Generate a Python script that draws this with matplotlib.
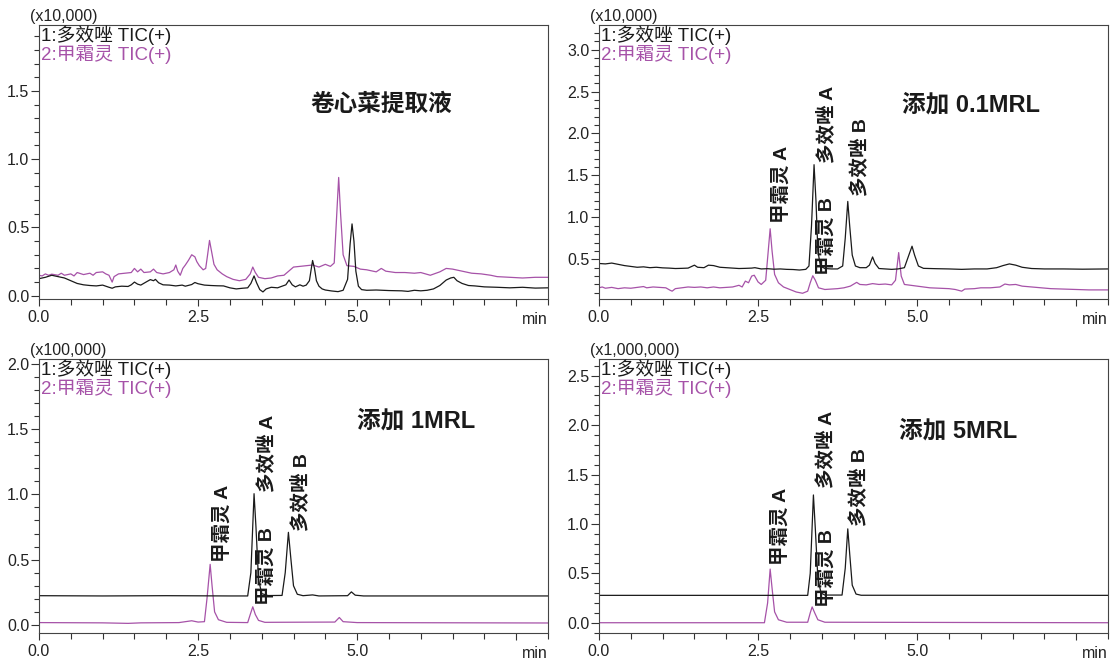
"""Four overlaid TIC chromatograms: cabbage blank and three spike levels."""

import matplotlib

matplotlib.use("Agg")
import matplotlib.pyplot as plt
import numpy as np
from matplotlib.ticker import FixedLocator, MultipleLocator

plt.rcParams["font.family"] = ["Liberation Sans", "Noto Sans CJK SC"]

BLACK = "#1a1a1a"
MAGENTA = "#a652a8"

LEGEND_1 = "1:多效唑 TIC(+)"
LEGEND_2 = "2:甲霜灵 TIC(+)"
X_TICKS = [0.0, 2.5, 5.0, 7.5]
X_TICK_LABELS = ["0.0", "2.5", "5.0", ""]

# (time min, intensity in panel units)
blank_black = [
    (0.00, 0.125), (0.10, 0.135), (0.20, 0.150), (0.25, 0.145), (0.30, 0.140),
    (0.40, 0.130), (0.50, 0.110), (0.60, 0.090), (0.70, 0.080), (0.80, 0.075),
    (0.90, 0.072), (1.00, 0.078), (1.05, 0.070), (1.10, 0.062), (1.15, 0.055),
    (1.20, 0.065), (1.30, 0.070), (1.40, 0.068), (1.45, 0.080), (1.50, 0.100),
    (1.55, 0.085), (1.60, 0.078), (1.70, 0.105), (1.75, 0.118), (1.80, 0.110),
    (1.83, 0.120), (1.88, 0.095), (1.95, 0.080), (2.05, 0.078), (2.15, 0.072),
    (2.25, 0.078), (2.30, 0.070), (2.40, 0.082), (2.45, 0.097), (2.50, 0.088),
    (2.60, 0.078), (2.70, 0.075), (2.80, 0.073), (2.90, 0.072), (3.00, 0.058),
    (3.10, 0.050), (3.20, 0.055), (3.28, 0.058), (3.33, 0.090), (3.38, 0.145),
    (3.42, 0.095), (3.47, 0.045), (3.52, 0.028), (3.57, 0.050), (3.65, 0.062),
    (3.75, 0.058), (3.82, 0.070), (3.88, 0.080), (3.93, 0.115), (3.98, 0.080),
    (4.03, 0.065), (4.10, 0.080), (4.15, 0.070), (4.20, 0.078), (4.25, 0.110),
    (4.28, 0.200), (4.30, 0.258), (4.33, 0.200), (4.36, 0.110), (4.40, 0.070),
    (4.45, 0.050), (4.50, 0.042), (4.60, 0.035), (4.70, 0.030), (4.78, 0.040),
    (4.85, 0.120), (4.89, 0.380), (4.92, 0.526), (4.95, 0.400), (4.98, 0.180),
    (5.02, 0.070), (5.07, 0.045), (5.15, 0.040), (5.30, 0.042), (5.50, 0.038),
    (5.70, 0.036), (5.80, 0.032), (5.90, 0.040), (6.00, 0.036), (6.10, 0.040),
    (6.20, 0.050), (6.30, 0.075), (6.40, 0.115), (6.47, 0.130), (6.52, 0.135),
    (6.57, 0.110), (6.65, 0.090), (6.75, 0.075), (6.85, 0.072), (7.00, 0.065),
    (7.20, 0.062), (7.40, 0.058), (7.60, 0.062), (7.80, 0.056), (8.00, 0.058),
]
blank_magenta = [
    (0.00, 0.150), (0.05, 0.145), (0.10, 0.160), (0.15, 0.150), (0.20, 0.158),
    (0.30, 0.150), (0.35, 0.165), (0.40, 0.150), (0.50, 0.160), (0.55, 0.145),
    (0.60, 0.170), (0.70, 0.155), (0.80, 0.165), (0.85, 0.150), (0.90, 0.170),
    (1.00, 0.175), (1.05, 0.160), (1.10, 0.150), (1.15, 0.100), (1.18, 0.140),
    (1.25, 0.160), (1.35, 0.165), (1.45, 0.170), (1.50, 0.200), (1.55, 0.175),
    (1.60, 0.195), (1.65, 0.170), (1.75, 0.175), (1.80, 0.195), (1.85, 0.170),
    (1.95, 0.160), (2.05, 0.170), (2.12, 0.190), (2.15, 0.225), (2.18, 0.180),
    (2.22, 0.150), (2.26, 0.200), (2.30, 0.225), (2.35, 0.260), (2.40, 0.300),
    (2.45, 0.285), (2.48, 0.250), (2.52, 0.220), (2.58, 0.190), (2.62, 0.200),
    (2.65, 0.300), (2.68, 0.405), (2.71, 0.330), (2.75, 0.230), (2.80, 0.190),
    (2.88, 0.160), (2.95, 0.140), (3.05, 0.120), (3.15, 0.110), (3.25, 0.120),
    (3.32, 0.160), (3.36, 0.210), (3.40, 0.170), (3.45, 0.135), (3.55, 0.125),
    (3.65, 0.130), (3.75, 0.145), (3.85, 0.150), (3.95, 0.190), (4.00, 0.210),
    (4.10, 0.215), (4.20, 0.220), (4.30, 0.225), (4.40, 0.210), (4.50, 0.230),
    (4.58, 0.215), (4.64, 0.240), (4.68, 0.600), (4.71, 0.866), (4.74, 0.600),
    (4.78, 0.300), (4.84, 0.220), (4.95, 0.215), (5.05, 0.195), (5.15, 0.190),
    (5.30, 0.175), (5.38, 0.200), (5.45, 0.180), (5.60, 0.170), (5.75, 0.170),
    (5.90, 0.165), (6.00, 0.170), (6.15, 0.150), (6.30, 0.175), (6.40, 0.200),
    (6.50, 0.195), (6.60, 0.185), (6.70, 0.175), (6.80, 0.165), (6.95, 0.160),
    (7.10, 0.150), (7.20, 0.140), (7.40, 0.135), (7.60, 0.130), (7.80, 0.135),
    (8.00, 0.135),
]
mrl01_black = [
    (0.00, 0.450), (0.10, 0.445), (0.20, 0.455), (0.30, 0.440), (0.40, 0.425),
    (0.50, 0.415), (0.60, 0.405), (0.70, 0.410), (0.80, 0.400), (0.90, 0.405),
    (1.00, 0.398), (1.10, 0.395), (1.20, 0.390), (1.30, 0.392), (1.40, 0.395),
    (1.50, 0.430), (1.55, 0.405), (1.65, 0.400), (1.72, 0.430), (1.80, 0.425),
    (1.90, 0.405), (2.00, 0.400), (2.10, 0.395), (2.20, 0.390), (2.30, 0.392),
    (2.40, 0.395), (2.45, 0.400), (2.55, 0.385), (2.65, 0.388), (2.75, 0.382),
    (2.85, 0.385), (2.95, 0.380), (3.05, 0.378), (3.15, 0.372), (3.25, 0.380),
    (3.30, 0.420), (3.34, 0.900), (3.38, 1.628), (3.41, 1.200), (3.44, 0.600),
    (3.48, 0.420), (3.55, 0.390), (3.65, 0.385), (3.75, 0.385), (3.83, 0.420),
    (3.87, 0.750), (3.91, 1.190), (3.94, 0.900), (3.98, 0.550), (4.03, 0.420),
    (4.10, 0.400), (4.20, 0.400), (4.25, 0.430), (4.30, 0.528), (4.34, 0.450),
    (4.40, 0.390), (4.50, 0.385), (4.60, 0.380), (4.70, 0.385), (4.80, 0.400),
    (4.87, 0.550), (4.92, 0.656), (4.96, 0.550), (5.02, 0.420), (5.10, 0.392),
    (5.30, 0.388), (5.50, 0.385), (5.70, 0.380), (5.90, 0.385), (6.10, 0.385),
    (6.25, 0.400), (6.35, 0.425), (6.45, 0.445), (6.55, 0.430), (6.65, 0.405),
    (6.80, 0.390), (7.00, 0.385), (7.30, 0.385), (7.60, 0.382), (8.00, 0.385),
]
mrl01_magenta = [
    (0.00, 0.160), (0.05, 0.170), (0.10, 0.155), (0.20, 0.165), (0.30, 0.150),
    (0.40, 0.160), (0.50, 0.155), (0.60, 0.165), (0.70, 0.175), (0.75, 0.160),
    (0.85, 0.170), (0.95, 0.165), (1.05, 0.160), (1.12, 0.130), (1.15, 0.120),
    (1.20, 0.150), (1.30, 0.160), (1.40, 0.170), (1.50, 0.165), (1.60, 0.170),
    (1.70, 0.160), (1.80, 0.170), (1.90, 0.160), (2.00, 0.165), (2.10, 0.170),
    (2.20, 0.190), (2.25, 0.170), (2.30, 0.240), (2.35, 0.220), (2.40, 0.300),
    (2.44, 0.310), (2.50, 0.230), (2.55, 0.200), (2.62, 0.250), (2.66, 0.600),
    (2.69, 0.864), (2.72, 0.600), (2.76, 0.320), (2.82, 0.220), (2.90, 0.170),
    (3.00, 0.140), (3.10, 0.110), (3.20, 0.095), (3.28, 0.120), (3.32, 0.220),
    (3.36, 0.304), (3.40, 0.250), (3.45, 0.160), (3.55, 0.140), (3.65, 0.145),
    (3.75, 0.150), (3.85, 0.160), (3.95, 0.180), (4.05, 0.225), (4.10, 0.200),
    (4.20, 0.195), (4.30, 0.210), (4.40, 0.200), (4.50, 0.205), (4.60, 0.195),
    (4.66, 0.250), (4.71, 0.580), (4.75, 0.300), (4.80, 0.200), (4.90, 0.190),
    (5.00, 0.180), (5.10, 0.170), (5.20, 0.160), (5.35, 0.155), (5.50, 0.150),
    (5.60, 0.140), (5.70, 0.120), (5.75, 0.145), (5.90, 0.150), (6.00, 0.160),
    (6.15, 0.160), (6.30, 0.170), (6.38, 0.205), (6.45, 0.195), (6.55, 0.200),
    (6.65, 0.180), (6.80, 0.170), (6.95, 0.160), (7.10, 0.150), (7.30, 0.145),
    (7.50, 0.140), (7.70, 0.135), (8.00, 0.135),
]
mrl1_black = [
    (0.00, 0.224), (1.00, 0.222), (2.00, 0.224), (3.00, 0.222), (3.28, 0.222),
    (3.33, 0.400), (3.38, 1.005), (3.41, 0.750), (3.45, 0.350), (3.50, 0.240),
    (3.60, 0.225), (3.82, 0.226), (3.87, 0.400), (3.92, 0.709), (3.96, 0.500),
    (4.00, 0.300), (4.06, 0.235), (4.15, 0.224), (4.30, 0.230), (4.40, 0.222),
    (4.85, 0.224), (4.91, 0.253), (4.97, 0.228), (5.10, 0.222), (8.00, 0.222),
]
mrl1_magenta = [
    (0.00, 0.018), (1.00, 0.016), (1.40, 0.012), (1.60, 0.016), (2.20, 0.018),
    (2.40, 0.032), (2.50, 0.022), (2.60, 0.025), (2.64, 0.200), (2.69, 0.464),
    (2.72, 0.300), (2.76, 0.100), (2.82, 0.040), (2.95, 0.020), (3.28, 0.018),
    (3.32, 0.080), (3.36, 0.139), (3.40, 0.080), (3.45, 0.035), (3.55, 0.020),
    (4.65, 0.022), (4.72, 0.057), (4.78, 0.025), (5.00, 0.018), (8.00, 0.015),
]
mrl5_black = [
    (0.00, 0.277), (3.28, 0.277), (3.32, 0.500), (3.37, 1.293), (3.40, 0.950),
    (3.44, 0.450), (3.49, 0.300), (3.55, 0.280), (3.82, 0.280), (3.87, 0.550),
    (3.91, 0.950), (3.94, 0.700), (3.98, 0.380), (4.04, 0.290), (4.12, 0.278),
    (8.00, 0.277),
]
mrl5_magenta = [
    (0.00, 0.000), (2.60, 0.000), (2.65, 0.200), (2.69, 0.543), (2.72, 0.350),
    (2.76, 0.110), (2.82, 0.030), (2.95, 0.005), (3.28, 0.005), (3.32, 0.100),
    (3.35, 0.160), (3.39, 0.100), (3.44, 0.030), (3.55, 0.005), (8.00, 0.000),
]

# peak labels: (text, time, bottom of text in data units)
mrl01_peaks = [("甲霜灵 A", 2.87, 0.93), ("多效唑 A", 3.58, 1.65),
               ("甲霜灵 B", 3.58, 0.31), ("多效唑 B", 4.10, 1.25)]
mrl1_peaks = [("甲霜灵 A", 2.89, 0.48), ("多效唑 A", 3.58, 1.02),
              ("甲霜灵 B", 3.58, 0.155), ("多效唑 B", 4.11, 0.72)]
mrl5_peaks = [("甲霜灵 A", 2.86, 0.58), ("多效唑 A", 3.57, 1.36),
              ("甲霜灵 B", 3.57, 0.16), ("多效唑 B", 4.09, 0.98)]

W, H = 1111, 664
LEFT_X, RIGHT_X, PANEL_W = 39, 599, 509
TOP_Y, BOTTOM_Y, PANEL_H = 25.3, 359.3, 274


def rect(x_px, y_px):
    return [x_px / W, 1 - (y_px + PANEL_H) / H, PANEL_W / W, PANEL_H / H]


fig = plt.figure(figsize=(W / 100, H / 100), dpi=100)


def draw_panel(pos, black, magenta, ylim, scale_label, title, title_xy, peaks):
    ax = fig.add_axes(pos)
    for trace, color in ((magenta, MAGENTA), (black, BLACK)):
        t, v = np.array(trace).T
        ax.plot(t, v, color=color, lw=0.9)
    ax.set_xlim(0, 8)
    ax.set_ylim(*ylim)

    ax.xaxis.set_major_locator(FixedLocator(X_TICKS))
    ax.set_xticklabels(X_TICK_LABELS)
    ax.xaxis.set_minor_locator(MultipleLocator(0.5))
    ax.yaxis.set_major_locator(MultipleLocator(0.5))
    ax.yaxis.set_minor_locator(MultipleLocator(0.1))
    ax.yaxis.set_major_formatter("{x:.1f}")
    ax.tick_params(axis="both", which="both", direction="out", color="#333333",
                   labelsize=11.5, labelcolor="#222222", width=0.8)
    ax.tick_params(axis="y", which="major", length=6, pad=1)
    ax.tick_params(axis="y", which="minor", length=3.3)
    ax.tick_params(axis="x", which="major", length=5, pad=3)
    ax.tick_params(axis="x", which="minor", length=4)
    for spine in ax.spines.values():
        spine.set_color("#444444")
        spine.set_linewidth(0.8)

    ax.text(1.0, -0.072, "min", transform=ax.transAxes, ha="right", va="center",
            fontsize=11.5, color="#222222")
    ax.annotate(scale_label, xy=(0, 1), xycoords="axes fraction",
                xytext=(-9, 9), textcoords="offset pixels",
                ha="left", va="center", fontsize=11.5, color="#222222")
    # two legend lines set close together, as in the instrument printout
    ax.text(0.004, 0.965, LEGEND_1, transform=ax.transAxes, ha="left",
            va="center", fontsize=13.5, color=BLACK)
    ax.text(0.004, 0.892, LEGEND_2, transform=ax.transAxes, ha="left",
            va="center", fontsize=13.5, color=MAGENTA)
    ax.text(*title_xy, title, ha="center", va="center", fontsize=17,
            fontweight="bold", color=BLACK)
    for text, t, y in peaks:
        ax.text(t, y, text, rotation=90, ha="center", va="bottom",
                fontsize=14, fontweight="bold", color=BLACK)
    return ax


draw_panel(rect(LEFT_X, TOP_Y), blank_black, blank_magenta, (-0.026, 1.98),
           "(x10,000)", "卷心菜提取液", (5.38, 1.40), [])
draw_panel(rect(RIGHT_X, TOP_Y), mrl01_black, mrl01_magenta, (0.023, 3.29),
           "(x10,000)", "添加 0.1MRL", (5.85, 2.34), mrl01_peaks)
draw_panel(rect(LEFT_X, BOTTOM_Y), mrl1_black, mrl1_magenta, (-0.064, 2.034),
           "(x100,000)", "添加 1MRL", (5.92, 1.56), mrl1_peaks)
draw_panel(rect(RIGHT_X, BOTTOM_Y), mrl5_black, mrl5_magenta, (-0.107, 2.666),
           "(x1,000,000)", "添加 5MRL", (5.65, 1.94), mrl5_peaks)

fig.savefig("out.png", dpi=100)
plt.close(fig)
